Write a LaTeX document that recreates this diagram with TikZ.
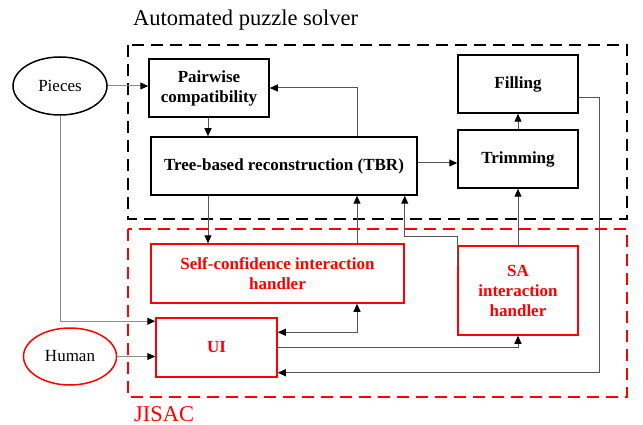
\documentclass[tikz,border=0pt]{standalone}
\usepackage{fontspec}
\setmainfont{Liberation Serif}
\newfontfamily\timesfont{Liberation Serif}
\usetikzlibrary{arrows.meta,calc,shapes.geometric}
\definecolor{linegray}{HTML}{555555}
\definecolor{lightgray}{HTML}{8A8A8A}
\tikzset{
  tip/.tip={Triangle[length=8pt,width=7pt,color=black]},
  blockbox/.style={draw, line width=1.5pt, inner sep=0pt, align=center,
    font=\timesfont\bfseries\fontsize{17}{20}\selectfont},
  redbox/.style={blockbox, draw=red, text=red},
  oval/.style={draw, ellipse, line width=1.5pt, inner sep=0pt,
    font=\timesfont\fontsize{17}{20}\selectfont},
  conn/.style={draw=linegray, line width=1pt, -tip},
  connlight/.style={conn, draw=lightgray},
  frame/.style={line width=2.5pt, dash pattern=on 12pt off 7pt},
  caption/.style={anchor=base west, inner sep=0pt, font=\timesfont\fontsize{22.5}{26}\selectfont},
}
\begin{document}
\begin{tikzpicture}[x=1pt,y=-1pt]
\useasboundingbox (0,0) rectangle (643,425);

% group frames and their captions
\draw[frame] (128,45) rectangle (627,219);
\draw[frame, red] (128,229) rectangle (627,397);
\node[caption] (ttl) at (133,26) {Automated puzzle solver};
\node[caption, text=red] (jis) at (134,421) {JISAC};

% inputs
\node[oval, minimum width=94pt, minimum height=58pt] (pieces) at (60,86) {Pieces};
\node[oval, draw=red, minimum width=93pt, minimum height=57pt] (human) at (70,356.5) {Human};

% solver blocks
\node[blockbox, minimum width=120pt, minimum height=58pt] (pair) at (209,88) {Pairwise\\compatibility};
\node[blockbox, minimum width=266pt, minimum height=58pt] (tbr) at (284,166) {Tree-based reconstruction (TBR)};
\node[blockbox, minimum width=120pt, minimum height=58pt] (fill) at (518,84) {Filling};
\node[blockbox, minimum width=120pt, minimum height=58pt] (trim) at (518,159) {Trimming};

% interaction blocks
\node[redbox, minimum width=253pt, minimum height=59pt] (sc) at (277.5,273.5) {Self-confidence interaction\\handler};
\node[redbox, minimum width=120pt, minimum height=89pt] (sa) at (518,290.5) {SA\\interaction\\handler};
\node[redbox, minimum width=121pt, minimum height=59pt] (ui) at (216.5,347.5) {UI};

% connectors
\draw[connlight] (pieces.east) -- (pieces.east -| pair.west);
\draw[connlight] (pieces.south) |- ([yshift=-4pt]ui.north west);
\draw[connlight] (human.east) -- (human.east -| ui.west);
\draw[conn] ([xshift=-1pt]pair.south) -- ([xshift=-1pt]pair.south |- tbr.north);
\draw[conn] ([xshift=73pt]tbr.north) |- (pair.east);
\draw[conn] ([yshift=3pt]tbr.east) -- ([yshift=3pt]tbr.east -| trim.west);
\draw[conn] (trim.north) -- (fill.south);
\draw[conn] ([yshift=-14pt]fill.east) -- ++(21,0) |- ([yshift=5pt]ui.south east);
\draw[conn] ([xshift=-1pt]pair.south |- tbr.south) -- ([xshift=-1pt]pair.south |- sc.north);
\draw[conn] ([xshift=79.5pt]sc.north) -- ([xshift=73pt]tbr.south);
\draw[conn] ([yshift=-21pt]sa.north west) -- ++(0,-30) -| ([xshift=-13pt]tbr.south east);
\draw[conn] (sa.north) -- (trim.south);
\draw[conn, tip-tip] ([yshift=-15pt]ui.north east) -| ([xshift=79.5pt]sc.south);
\draw[conn] (ui.east) -| (sa.south);
\end{tikzpicture}
\end{document}
